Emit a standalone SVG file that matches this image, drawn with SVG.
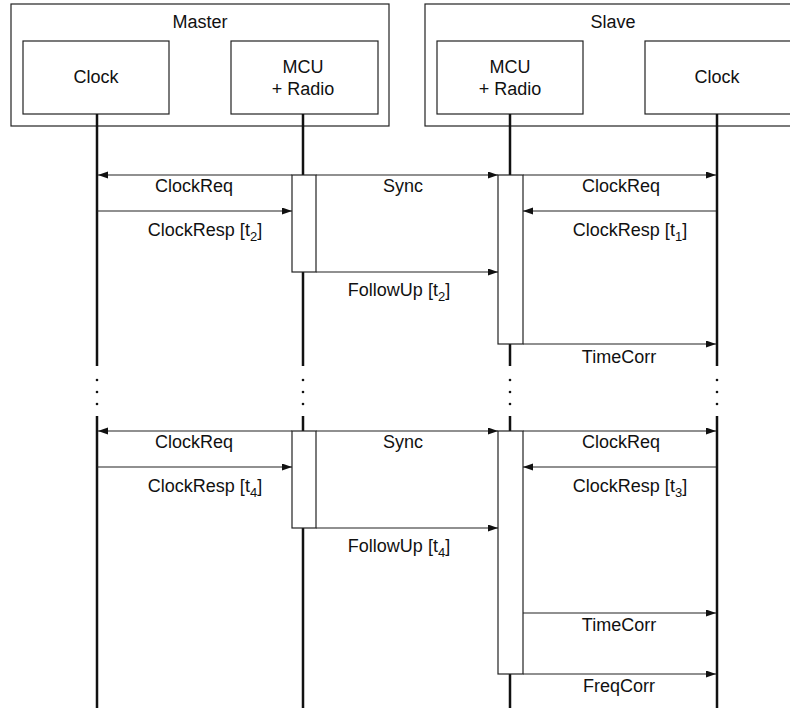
<svg xmlns="http://www.w3.org/2000/svg" width="790" height="708" viewBox="0 0 790 708">
  <defs>
    <marker id="arrow" markerUnits="userSpaceOnUse" markerWidth="11" markerHeight="8" refX="10" refY="3.5" orient="auto">
      <path d="M0,0 L10,3.5 L0,7 Z" fill="#111"/>
    </marker>
    <style>
      .box { fill: #fff; stroke: #222; stroke-width: 1.2; }
      .act { fill: #fff; stroke: #222; stroke-width: 1.2; }
      .life { stroke: #111; stroke-width: 2.5; fill: none; }
      .msg { stroke: #222; stroke-width: 1.2; fill: none; marker-end: url(#arrow); }
      .dot { fill: #111; }
      text { font-family: "Liberation Sans", Arial, Helvetica, sans-serif; font-size: 18px; fill: #111; text-anchor: middle; }
      .sub { font-size: 13px; }
    </style>
  </defs>

  <!-- Master device -->
  <g id="master">
    <rect class="box" x="11" y="4" width="378" height="122"/>
    <text x="200" y="28">Master</text>
  </g>
  <g id="master-clock">
    <rect class="box" x="23" y="41" width="146" height="73"/>
    <text x="96" y="83">Clock</text>
  </g>
  <g id="master-mcu">
    <rect class="box" x="231" y="41" width="147" height="73"/>
    <text x="303" y="73">MCU</text>
    <text x="303" y="95">+ Radio</text>
  </g>

  <!-- Slave device -->
  <g id="slave">
    <rect class="box" x="425" y="4" width="376" height="122"/>
    <text x="613" y="28">Slave</text>
  </g>
  <g id="slave-mcu">
    <rect class="box" x="437" y="41" width="146" height="73"/>
    <text x="510" y="73">MCU</text>
    <text x="510" y="95">+ Radio</text>
  </g>
  <g id="slave-clock">
    <rect class="box" x="645" y="41" width="150" height="73"/>
    <text x="717" y="83">Clock</text>
  </g>

  <!-- Lifelines with elision dots -->
  <g id="lifelines">
    <path class="life" d="M97,114 V366 M97,416 V708 M303,114 V366 M303,416 V708 M510,114 V366 M510,416 V708 M717,114 V366 M717,416 V708"/>
    <g class="dot">
      <circle cx="97" cy="380" r="1.3"/><circle cx="97" cy="392" r="1.3"/><circle cx="97" cy="404" r="1.3"/>
      <circle cx="303" cy="380" r="1.3"/><circle cx="303" cy="392" r="1.3"/><circle cx="303" cy="404" r="1.3"/>
      <circle cx="510" cy="380" r="1.3"/><circle cx="510" cy="392" r="1.3"/><circle cx="510" cy="404" r="1.3"/>
      <circle cx="717" cy="380" r="1.3"/><circle cx="717" cy="392" r="1.3"/><circle cx="717" cy="404" r="1.3"/>
    </g>
  </g>

  <!-- Activation bars -->
  <g id="activations">
    <rect class="act" x="292" y="175" width="24" height="97"/>
    <rect class="act" x="498" y="175" width="25" height="169"/>
    <rect class="act" x="292" y="431" width="24" height="97"/>
    <rect class="act" x="498" y="431" width="25" height="243"/>
  </g>

  <!-- Messages -->
  <g id="connectors">
    <!-- first round -->
    <line class="msg" x1="292" y1="175" x2="98" y2="175"/>
    <line class="msg" x1="316" y1="175" x2="498" y2="175"/>
    <line class="msg" x1="523" y1="175" x2="716" y2="175"/>
    <line class="msg" x1="97" y1="211" x2="292" y2="211"/>
    <line class="msg" x1="716" y1="211" x2="523" y2="211"/>
    <line class="msg" x1="316" y1="272" x2="498" y2="272"/>
    <line class="msg" x1="523" y1="344" x2="716" y2="344"/>
    <!-- second round -->
    <line class="msg" x1="292" y1="431" x2="98" y2="431"/>
    <line class="msg" x1="316" y1="431" x2="498" y2="431"/>
    <line class="msg" x1="523" y1="431" x2="716" y2="431"/>
    <line class="msg" x1="97" y1="467" x2="292" y2="467"/>
    <line class="msg" x1="716" y1="467" x2="523" y2="467"/>
    <line class="msg" x1="316" y1="528" x2="498" y2="528"/>
    <line class="msg" x1="523" y1="613" x2="716" y2="613"/>
    <line class="msg" x1="523" y1="674" x2="716" y2="674"/>
  </g>

  <!-- Message labels -->
  <g id="labels">
    <text x="194" y="192">ClockReq</text>
    <text x="403" y="192">Sync</text>
    <text x="621" y="192">ClockReq</text>
    <text x="205" y="236">ClockResp [t<tspan class="sub" dy="5">2</tspan><tspan dy="-5">]</tspan></text>
    <text x="630" y="236">ClockResp [t<tspan class="sub" dy="5">1</tspan><tspan dy="-5">]</tspan></text>
    <text x="399" y="296">FollowUp [t<tspan class="sub" dy="5">2</tspan><tspan dy="-5">]</tspan></text>
    <text x="619" y="363">TimeCorr</text>

    <text x="194" y="448">ClockReq</text>
    <text x="403" y="448">Sync</text>
    <text x="621" y="448">ClockReq</text>
    <text x="205" y="492">ClockResp [t<tspan class="sub" dy="5">4</tspan><tspan dy="-5">]</tspan></text>
    <text x="630" y="492">ClockResp [t<tspan class="sub" dy="5">3</tspan><tspan dy="-5">]</tspan></text>
    <text x="399" y="552">FollowUp [t<tspan class="sub" dy="5">4</tspan><tspan dy="-5">]</tspan></text>
    <text x="619" y="631">TimeCorr</text>
    <text x="619" y="692">FreqCorr</text>
  </g>
</svg>
